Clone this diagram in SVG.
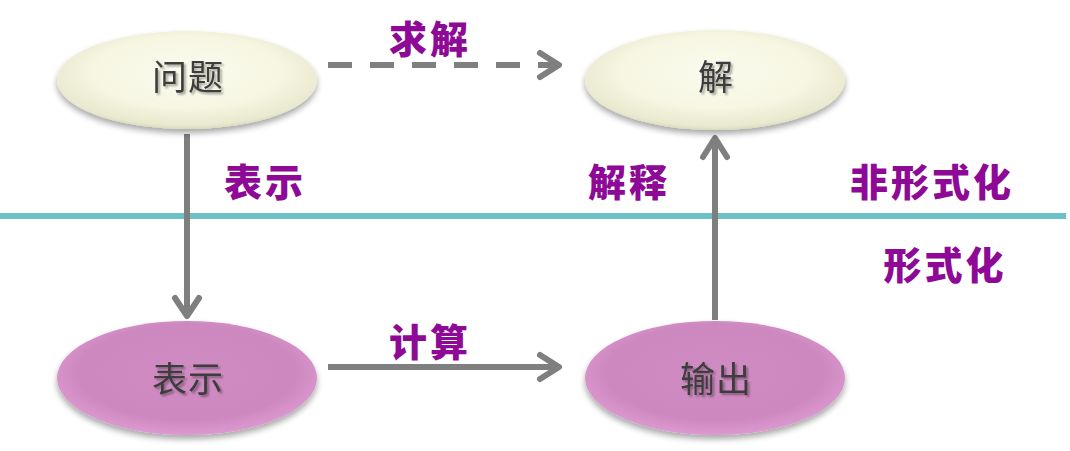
<svg xmlns="http://www.w3.org/2000/svg" width="1070" height="451" viewBox="0 0 1070 451">
  <style>
    .lbl { font-family: "Noto Sans CJK SC", "Liberation Sans", sans-serif; font-weight: 900; font-size: 38px; fill: #8e0a96; letter-spacing: 3px; text-anchor: middle; }
    .ntext { font-family: "Noto Sans CJK SC", "Liberation Sans", sans-serif; font-size: 35px; fill: #3c3c3c; text-anchor: middle; letter-spacing: 1px; filter: url(#txtShadow); }
    .conn { stroke: #7f7f7f; stroke-width: 6; fill: none; }
    .head { stroke: #7f7f7f; stroke-width: 6; fill: none; stroke-linecap: round; stroke-linejoin: round; }
  </style>
  <defs>
    <radialGradient id="cream" cx="0.5" cy="0.42" r="0.6">
      <stop offset="0" stop-color="#fbfbef"/>
      <stop offset="0.6" stop-color="#f6f6e2"/>
      <stop offset="0.9" stop-color="#e9e9cf"/>
      <stop offset="1" stop-color="#d4d4b8"/>
    </radialGradient>
    <radialGradient id="pink" cx="0.5" cy="0.45" r="0.6">
      <stop offset="0" stop-color="#cf8cc2"/>
      <stop offset="0.7" stop-color="#cd88bf"/>
      <stop offset="0.92" stop-color="#dc9ad0"/>
      <stop offset="1" stop-color="#f0b8ea"/>
    </radialGradient>
    <filter id="shadow" x="-10%" y="-20%" width="120%" height="150%">
      <feGaussianBlur in="SourceAlpha" stdDeviation="3"/>
      <feOffset dy="4"/>
      <feComponentTransfer><feFuncA type="linear" slope="0.35"/></feComponentTransfer>
      <feMerge><feMergeNode/><feMergeNode in="SourceGraphic"/></feMerge>
    </filter>
    <filter id="txtShadow" x="-10%" y="-10%" width="130%" height="140%">
      <feGaussianBlur in="SourceAlpha" stdDeviation="1"/>
      <feOffset dx="1.5" dy="2"/>
      <feComponentTransfer><feFuncA type="linear" slope="0.35"/></feComponentTransfer>
      <feMerge><feMergeNode/><feMergeNode in="SourceGraphic"/></feMerge>
    </filter>
  </defs>

  <!-- boundary between informal and formal levels -->
  <line id="divider" x1="0" y1="216" x2="1066" y2="216" stroke="#6cc1c9" stroke-width="6"/>

  <g id="connectors">
    <!-- solve (dashed) -->
    <line class="conn" x1="328" y1="65" x2="554" y2="65" stroke-dasharray="24 18"/>
    <polyline class="head" points="540,53 559,65 540,77"/>
    <!-- represent (down) -->
    <line class="conn" x1="187" y1="134" x2="187" y2="314"/>
    <polyline class="head" points="175,298 187,316 199,298"/>
    <!-- compute -->
    <line class="conn" x1="328" y1="367" x2="556" y2="367"/>
    <polyline class="head" points="540,355 559,367 540,379"/>
    <!-- interpret (up) -->
    <line class="conn" x1="715" y1="320" x2="715" y2="140"/>
    <polyline class="head" points="703,157 715,138 727,157"/>
  </g>

  <g id="node-problem">
    <ellipse cx="187" cy="80" rx="130" ry="49" fill="url(#cream)" filter="url(#shadow)"/>
    <text class="ntext" x="188" y="90">问题</text>
  </g>
  <g id="node-solution">
    <ellipse cx="715" cy="80" rx="130" ry="50" fill="url(#cream)" filter="url(#shadow)"/>
    <text class="ntext" x="716" y="90">解</text>
  </g>
  <g id="node-representation">
    <ellipse cx="187" cy="378" rx="130" ry="57" fill="url(#pink)" filter="url(#shadow)"/>
    <text class="ntext" x="188" y="392">表示</text>
  </g>
  <g id="node-output">
    <ellipse cx="715" cy="378" rx="130" ry="57" fill="url(#pink)" filter="url(#shadow)"/>
    <text class="ntext" x="716" y="392">输出</text>
  </g>

  <g id="labels">
    <text class="lbl" x="430" y="53">求解</text>
    <text class="lbl" x="265" y="196">表示</text>
    <text class="lbl" x="629" y="196">解释</text>
    <text class="lbl" x="932" y="196">非形式化</text>
    <text class="lbl" x="945" y="279">形式化</text>
    <text class="lbl" x="430" y="356">计算</text>
  </g>
</svg>
